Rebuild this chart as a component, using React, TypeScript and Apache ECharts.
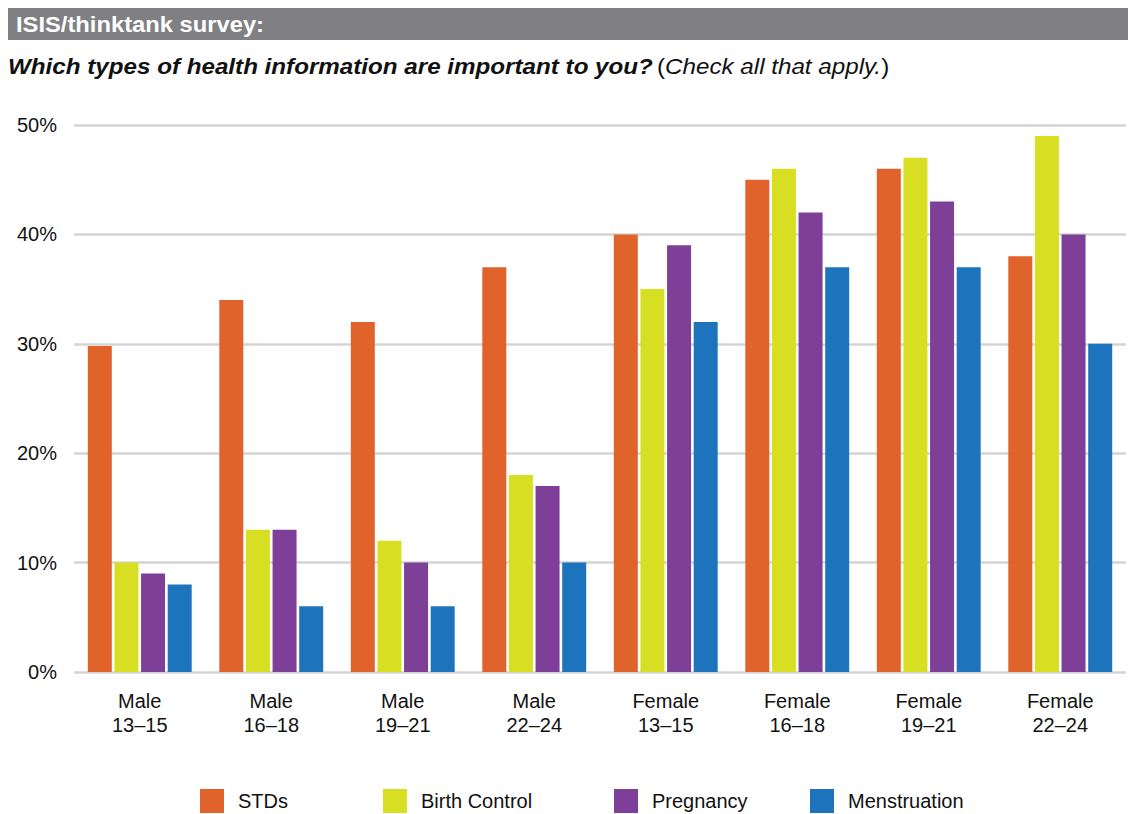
import React, { useEffect, useRef } from "react";
import * as echarts from "echarts";

const categories = ["Male\n13–15", "Male\n16–18", "Male\n19–21", "Male\n22–24", "Female\n13–15", "Female\n16–18", "Female\n19–21", "Female\n22–24"];
const stds = [29.8, 34, 32, 37, 40, 45, 46, 38];
const birthControl = [10, 13, 12, 18, 35, 46, 47, 49];
const pregnancy = [9, 13, 10, 17, 39, 42, 43, 40];
const menstruation = [8, 6, 6, 10, 32, 37, 37, 30];
const seriesNames = ["STDs", "Birth Control", "Pregnancy", "Menstruation"];
const colors = ["#E0632B", "#D8DF22", "#7E3F98", "#1E74BC"];
const legendLeft = [200, 383, 614, 810];

const FONT = "'Liberation Sans', Arial, Helvetica, sans-serif";

export default function App() {
  const ref = useRef<HTMLDivElement>(null);
  useEffect(() => {
    const chart = echarts.init(ref.current!, null, { renderer: "svg" });
    const data = [stds, birthControl, pregnancy, menstruation];
    chart.setOption({
      animation: false,
      backgroundColor: "#ffffff",
      textStyle: { fontFamily: FONT },
      graphic: [
        { type: "rect", shape: { x: 8, y: 8, width: 1120, height: 32 }, style: { fill: "#808084" } },
        { type: "text", x: 16, y: 24, scaleX: 1.08, style: { text: "ISIS/thinktank survey:", fill: "#ffffff", font: `bold 22px ${FONT}`, verticalAlign: "middle" } },
        {
          type: "text", x: 8, y: 66, scaleX: 1.1,
          style: {
            text: "{b|Which types of health information are important to you?} {n|(}{i|Check all that apply.}{n|)}",
            verticalAlign: "middle",
            rich: {
              b: { font: `italic bold 22px ${FONT}`, fill: "#111" },
              i: { font: `italic 22px ${FONT}`, fill: "#111" },
              n: { font: `22px ${FONT}`, fill: "#111" },
            },
          },
        },
      ],
      legend: seriesNames.map((n, i) => ({
        data: [n],
        left: legendLeft[i],
        top: 789,
        padding: 0,
        itemWidth: 24,
        itemHeight: 24,
        itemGap: 14,
        icon: "rect",
        textStyle: { fontSize: 20, color: "#111", fontFamily: FONT, padding: [0, 0, 0, 9] },
      })),
      grid: { left: 74, right: 2, top: 125, bottom: 142, containLabel: false },
      xAxis: {
        type: "category",
        data: categories,
        axisLine: { show: false },
        axisTick: { show: false },
        axisLabel: { fontSize: 20, color: "#111", lineHeight: 24, margin: 17, fontFamily: FONT },
      },
      yAxis: {
        type: "value",
        min: 0,
        max: 50,
        interval: 10,
        axisLine: { show: false },
        axisTick: { show: false },
        axisLabel: { formatter: "{value}%", fontSize: 20, color: "#111", margin: 17, fontFamily: FONT },
        splitLine: { lineStyle: { color: "#d4d4d4", width: 2.5 } },
      },
      series: seriesNames.map((n, i) => ({
        name: n,
        type: "bar",
        data: data[i],
        itemStyle: { color: colors[i] },
        barGap: "11%",
        barCategoryGap: "21%",
      })),
    });
    return () => chart.dispose();
  }, []);
  return <div ref={ref} style={{ position: "absolute", left: 0, top: 0, width: 1128, height: 814 }} />;
}
